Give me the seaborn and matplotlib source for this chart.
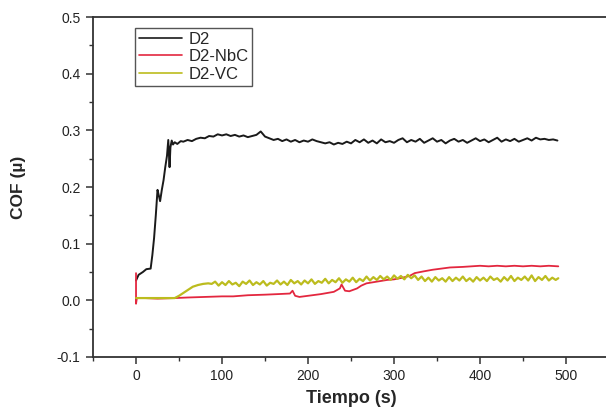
import matplotlib
matplotlib.use("Agg")
import matplotlib.pyplot as plt
from matplotlib.ticker import MultipleLocator
import pandas as pd
import seaborn as sns


SERIES_NAMES = ["D2", "D2-NbC", "D2-VC"]
COLORS = {"D2": "#1a1a1a", "D2-NbC": "#e3273f", "D2-VC": "#bcbc1e"}
LINE_WIDTHS = {"D2": 1.4, "D2-NbC": 1.3, "D2-VC": 1.6}

# D2 (black)
d2_time = [
    0, 3, 8, 12, 17, 19, 21, 23, 25, 26.5, 28, 30, 32, 34, 36, 37.5, 39, 40, 41.5, 43, 45, 48, 52,
    55, 60, 65, 70, 75, 80, 85, 90, 95, 100, 105, 110, 115, 120, 125, 130, 135, 140,
    145, 150, 155, 160, 165, 170, 175, 180, 185, 190, 195, 200, 205, 210, 215, 220, 225, 230,
    235, 240, 245, 250, 255, 260, 265, 270, 275, 280, 285, 290, 295, 300, 305, 310, 315, 320,
    325, 330, 335, 340, 345, 350, 355, 360, 365, 370, 375, 380, 385, 390, 395, 400, 405, 410,
    415, 420, 425, 430, 435, 440, 445, 450, 455, 460, 465, 470, 475, 480, 485, 490,
]
d2_cof = [
    0.035, 0.045, 0.050, 0.055, 0.056, 0.080, 0.110, 0.150, 0.195, 0.185, 0.175, 0.195, 0.212,
    0.235, 0.255, 0.283, 0.235, 0.270, 0.282, 0.275, 0.279, 0.276, 0.281,
    0.280, 0.283, 0.281, 0.285, 0.287, 0.286, 0.290, 0.289, 0.293, 0.291, 0.293, 0.290, 0.292,
    0.289, 0.291, 0.288, 0.290, 0.292,
    0.298, 0.289, 0.286, 0.283, 0.285, 0.281, 0.284, 0.280, 0.283, 0.279, 0.282, 0.280, 0.284,
    0.281, 0.279, 0.277, 0.279, 0.275, 0.278, 0.276, 0.280, 0.277, 0.283, 0.279, 0.284, 0.278,
    0.282, 0.277, 0.284, 0.279, 0.281, 0.278, 0.283, 0.286, 0.279, 0.283, 0.280, 0.285, 0.278,
    0.282, 0.286, 0.280, 0.283, 0.277, 0.282, 0.285, 0.280, 0.283, 0.278, 0.282, 0.286, 0.281,
    0.284, 0.279, 0.283, 0.287, 0.280, 0.284, 0.281, 0.285, 0.280, 0.283, 0.286, 0.282, 0.287,
    0.284, 0.285, 0.283, 0.284, 0.282,
]

# D2-NbC (red)
nbc_time = [
    0, 0, 1, 10, 25, 45, 60, 80, 100, 113, 130, 150, 165, 179, 182, 185, 190, 200, 215, 230,
    237, 239, 243, 248, 257, 262, 268, 276, 284, 292, 300, 310, 318, 324, 334, 345, 355, 365,
    380, 390, 400, 410, 420, 430, 440, 450, 460, 470, 480, 491,
]
nbc_cof = [
    0.048, -0.006, 0.004, 0.004, 0.003, 0.004, 0.005, 0.006, 0.007, 0.007, 0.009, 0.010, 0.011,
    0.012, 0.017, 0.008, 0.006, 0.008, 0.011, 0.015, 0.021, 0.028, 0.017, 0.016, 0.021, 0.026,
    0.030, 0.032, 0.034, 0.036, 0.037, 0.040, 0.043, 0.048, 0.051, 0.054, 0.056, 0.058, 0.059,
    0.060, 0.061, 0.060, 0.061, 0.060, 0.061, 0.060, 0.061, 0.060, 0.061, 0.060,
]

# D2-VC (olive yellow)
vc_time = [
    0, 45, 50, 55, 60, 66, 72, 78, 84, 88,
    92, 96, 100, 104, 108, 112, 116, 120, 124, 128, 132, 136, 140, 144, 148, 152, 156, 160,
    164, 168, 172, 176, 180, 184, 188, 192, 196, 200, 204, 208, 212, 216, 220, 224, 228, 232,
    236, 240, 244, 248, 252, 256, 260, 264, 268, 272, 276, 280, 284, 288, 292, 296, 300, 304,
    308, 312, 316, 320, 324, 328, 332, 336, 340, 344, 348, 352, 356, 360, 364, 368, 372, 376,
    380, 384, 388, 392, 396, 400, 404, 408, 412, 416, 420, 424, 428, 432, 436, 440, 444, 448,
    452, 456, 460, 464, 468, 472, 476, 480, 484, 488, 491,
]
vc_cof = [
    0.004, 0.004, 0.008, 0.013, 0.018, 0.024, 0.027, 0.029, 0.030, 0.029,
    0.033, 0.026, 0.032, 0.027, 0.034, 0.028, 0.031, 0.025, 0.033, 0.029, 0.035, 0.027, 0.032,
    0.028, 0.034, 0.026, 0.031, 0.029, 0.035, 0.028, 0.033, 0.027, 0.036, 0.030, 0.034, 0.028,
    0.035, 0.030, 0.037, 0.029, 0.034, 0.031, 0.038, 0.030, 0.036, 0.032, 0.039, 0.031, 0.037,
    0.033, 0.040, 0.032, 0.038, 0.034, 0.042, 0.035, 0.041, 0.036, 0.043, 0.037, 0.042, 0.036,
    0.044, 0.038, 0.043, 0.037, 0.045, 0.039, 0.044, 0.036, 0.042, 0.034, 0.040, 0.033, 0.041,
    0.035, 0.039, 0.033, 0.041, 0.034, 0.040, 0.035, 0.042, 0.034, 0.039, 0.033, 0.041, 0.035,
    0.040, 0.034, 0.042, 0.036, 0.039, 0.033, 0.041, 0.035, 0.043, 0.034, 0.040, 0.036, 0.042,
    0.035, 0.044, 0.034, 0.041, 0.036, 0.043, 0.035, 0.040, 0.036, 0.039,
]

X_TICKS = [0, 100, 200, 300, 400, 500]
Y_TICKS = [-0.1, 0.0, 0.1, 0.2, 0.3, 0.4, 0.5]


def build_frame() -> pd.DataFrame:
    parts = []
    for name, times, values in [
        ("D2", d2_time, d2_cof),
        ("D2-NbC", nbc_time, nbc_cof),
        ("D2-VC", vc_time, vc_cof),
    ]:
        part = pd.DataFrame({"tiempo": times, "cof": values})
        part["serie"] = name
        parts.append(part)
    return pd.concat(parts, ignore_index=True)


def main() -> None:
    sns.set_theme(style="ticks")
    plt.rcParams["font.family"] = ["Liberation Sans", "DejaVu Sans"]

    data = build_frame()
    fig = plt.figure(figsize=(6.06, 4.13), dpi=100)
    ax = fig.add_axes([0.1535, 0.1356, 0.8515, 0.8232])

    sns.lineplot(
        data=data,
        x="tiempo",
        y="cof",
        hue="serie",
        hue_order=SERIES_NAMES,
        palette=COLORS,
        estimator=None,
        units="serie",
        sort=False,
        linewidth=1.1,
        ax=ax,
    )
    # thicker plotted lines, legend keeps thin ones
    for line, name in zip(ax.lines[:3], SERIES_NAMES):
        line.set_linewidth(LINE_WIDTHS[name])

    ax.set_xlim(-50, 550)
    ax.set_ylim(-0.1, 0.5)
    ax.set_xticks(X_TICKS)
    ax.set_yticks(Y_TICKS)
    ax.set_xticklabels([str(v) for v in X_TICKS])
    ax.set_yticklabels([f"{v:.1f}" for v in Y_TICKS])
    ax.xaxis.set_minor_locator(MultipleLocator(50))
    ax.yaxis.set_minor_locator(MultipleLocator(0.05))
    ax.tick_params(which="major", direction="out", length=5, width=1.1, color="#333333",
                   labelsize=10, labelcolor="#222222", pad=4)
    ax.tick_params(which="minor", direction="out", length=3, width=1.0, color="#333333")

    for side in ["left", "bottom", "top"]:
        ax.spines[side].set_visible(True)
        ax.spines[side].set_color("#333333")
        ax.spines[side].set_linewidth(1.3)
    ax.spines["right"].set_visible(False)

    ax.set_xlabel("Tiempo (s)", fontsize=13, fontweight="bold", labelpad=5)
    ax.set_ylabel("COF (µ)", fontsize=12.5, fontweight="bold")
    ax.yaxis.set_label_coords(-0.13, 0.5)

    handles, labels = ax.get_legend_handles_labels()
    for handle in handles:
        handle.set_linewidth(1.2)
    ax.legend(
        handles,
        labels,
        loc="upper left",
        bbox_to_anchor=(0.081, 0.969),
        borderaxespad=0,
        frameon=True,
        fancybox=False,
        edgecolor="#555555",
        framealpha=1,
        fontsize=12,
        handlelength=2.6,
        handletextpad=0.35,
        labelspacing=0.15,
        borderpad=0.25,
    )

    fig.savefig("out.png", dpi=100)
    plt.close(fig)


if __name__ == "__main__":
    main()
